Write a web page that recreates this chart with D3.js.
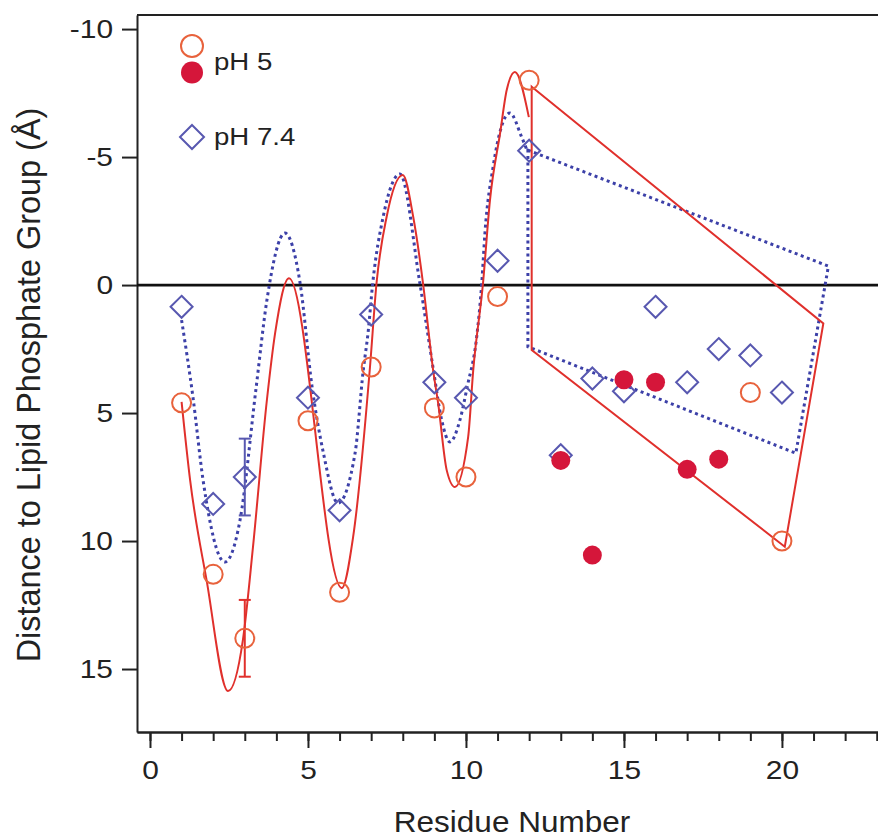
<!DOCTYPE html>
<html><head><meta charset="utf-8">
<script src="https://cdn.jsdelivr.net/npm/d3@7"></script>
<style>body{margin:0;background:#fff}</style>
</head><body><svg id="c" width="878" height="840"></svg>
<script>
// ---- data ----
const openResidues = [1,2,3,5,6,7,9,10,11,12,19,20];
const openPH5 = [4.6,11.3,13.8,5.3,12.0,3.2,4.8,7.5,0.45,-8.0,4.2,10.0];
const filledResidues = [13,14,15,16,17,18];
const filledPH5 = [6.85,10.55,3.7,3.8,7.2,6.8];
const diamondResidues = [1,2,3,5,6,7,9,10,11,12,13,14,15,16,17,18,19,20];
const diamondPH74 = [0.85,8.55,7.5,4.4,8.8,1.15,3.8,4.4,-0.95,-5.25,6.65,3.65,4.15,0.85,3.8,2.5,2.75,4.2];
const errResidues = [3,3];
const errCenters = [13.8,7.5];
const errHalf = [1.5,1.5];
const errSeries = ["pH 5","pH 7.4"];
const redCurveX = [1.0,1.27,1.79,2.47,2.94,3.26,3.70,3.96,4.40,6.07,6.43,6.96,7.17,7.49,8.0,8.33,8.64,8.96,9.12,9.39,9.65,10.07,10.23,10.54,10.76,11.08,11.29,11.55,11.99];
const redCurveY = [4.56,7.62,11.52,15.86,13.87,10.23,4.49,1.88,-0.27,11.84,9.83,3.24,-0.08,-2.67,-4.30,-2.67,-0.08,3.32,4.62,7.23,7.89,5.93,3.32,-0.08,-3.32,-5.93,-7.62,-8.32,-6.56];
const blueCurveX = [1.0,1.36,1.68,2.37,2.85,3.35,3.70,4.27,4.75,5.13,5.49,5.95,6.49,6.75,6.90,7.05,7.38,7.91,8.54,8.97,9.23,9.49,9.81,10.04,10.34,10.50,10.60,10.86,11.39,11.76,11.93];
const blueCurveY = [1.37,4.38,7.62,10.82,9.18,4.1,0.59,-2.03,-0.08,3.98,6.57,8.52,6.57,3.32,1.88,-0.08,-2.67,-4.34,-0.08,3.32,5.27,6.13,5.27,3.97,2.02,-0.08,-2.02,-4.62,-6.72,-5.79,-5.27];
const redPolyX = [12.08,21.31,20.09,12.08];
const redPolyY = [-7.75,1.50,10.22,2.54];
const bluePolyX = [11.96,21.47,20.44,11.96];
const bluePolyY = [-5.27,-0.74,6.57,2.41];
const xMajorTicks = [0,5,10,15,20];
const yTicks = [-10,-5,0,5,10,15];
const xTitle = "Residue Number";
const yTitle = "Distance to Lipid Phosphate Group (Å)";

// ---- styles ----
const FONT = "'Liberation Sans', Arial, Helvetica, sans-serif";
const ORANGE = "#e8623c", RED = "#e0302c", CRIMSON = "#d5163a", BLUE = "#5858b0", BLUED = "#3c40a8";
const SX = 1.15;

const svg = d3.select("#c");
const L = 137, R = 878, T = 15, B = 732;
const x = d3.scaleLinear().domain([-0.411, 23.04]).range([L, R]);
const y = d3.scaleLinear().domain([-10.55, 17.46]).range([T, B]);

// frame
svg.append("line").attr("x1", L).attr("x2", R).attr("y1", T).attr("y2", T).attr("stroke", "#222").attr("stroke-width", 2);

// x axis
const gxMinor = svg.append("g").attr("transform", `translate(0,${B})`)
  .call(d3.axisBottom(x).tickValues(d3.range(0, 24)).tickSize(9).tickSizeOuter(0).tickFormat(""));
const gx = svg.append("g").attr("transform", `translate(0,${B})`)
  .call(d3.axisBottom(x).tickValues(xMajorTicks).tickSize(16).tickSizeOuter(0).tickPadding(14).tickFormat(d => String(d)));
[gxMinor, gx].forEach(g => { g.selectAll("path,line").attr("stroke", "#222").attr("stroke-width", 2); });
gx.selectAll("text").attr("font-family", FONT).attr("font-size", 26).attr("fill", "#222")
  .each(function() {
    const t = d3.select(this); const yy = +t.attr("y");
    t.attr("y", null).attr("transform", `translate(0,${yy - 1}) scale(${SX},1)`);
  });

// y axis
const gy = svg.append("g").attr("transform", `translate(${L},0)`)
  .call(d3.axisLeft(y).tickValues(yTicks).tickSize(15).tickSizeOuter(0).tickPadding(9).tickFormat(d => String(d)));
gy.selectAll("path,line").attr("stroke", "#222").attr("stroke-width", 2);
gy.selectAll("text").attr("font-family", FONT).attr("font-size", 26).attr("fill", "#222")
  .each(function() {
    const t = d3.select(this); const xx = +t.attr("x");
    t.attr("x", null).attr("transform", `translate(${xx},0) scale(${SX},1)`);
  });

// zero line
svg.append("line").attr("x1", L).attr("x2", R).attr("y1", y(0)).attr("y2", y(0)).attr("stroke", "#111").attr("stroke-width", 2.8);

// titles
svg.append("text").attr("transform", `translate(${512},${832}) scale(1.05,1)`).attr("text-anchor", "middle")
  .attr("font-family", FONT).attr("font-size", 30).attr("fill", "#222").text(xTitle);
svg.append("text").attr("transform", `translate(${40},${385}) rotate(-90)`).attr("text-anchor", "middle")
  .attr("font-family", FONT).attr("font-size", 32.4).attr("fill", "#222").text(yTitle);

// curves
const line = d3.line().x(d => x(d[0])).y(d => y(d[1])).curve(d3.curveMonotoneX);
const poly = d3.line().x(d => x(d[0])).y(d => y(d[1])).curve(d3.curveLinearClosed);
const bluePts = blueCurveX.map((v, i) => [v, blueCurveY[i]]);
const redPts = redCurveX.map((v, i) => [v, redCurveY[i]]);
svg.append("path").attr("d", line(bluePts)).attr("fill", "none").attr("stroke", BLUED).attr("stroke-width", 3).attr("stroke-dasharray", "3,3.5");
svg.append("path").attr("d", poly(bluePolyX.map((v, i) => [v, bluePolyY[i]]))).attr("fill", "none").attr("stroke", BLUED).attr("stroke-width", 3).attr("stroke-dasharray", "3,3.5");
svg.append("path").attr("d", line(redPts)).attr("fill", "none").attr("stroke", RED).attr("stroke-width", 2);
svg.append("path").attr("d", poly(redPolyX.map((v, i) => [v, redPolyY[i]]))).attr("fill", "none").attr("stroke", RED).attr("stroke-width", 2).attr("stroke-linejoin", "miter");

// error bars
errResidues.forEach((r, i) => {
  const c = errSeries[i] === "pH 5" ? RED : BLUE;
  const g = svg.append("g").attr("stroke", c).attr("stroke-width", 2);
  const y1 = y(errCenters[i] - errHalf[i]), y2 = y(errCenters[i] + errHalf[i]), xc = x(r);
  g.append("line").attr("x1", xc).attr("x2", xc).attr("y1", y1).attr("y2", y2);
  g.append("line").attr("x1", xc - 6).attr("x2", xc + 6).attr("y1", y1).attr("y2", y1);
  g.append("line").attr("x1", xc - 6).attr("x2", xc + 6).attr("y1", y2).attr("y2", y2);
});

// markers
const diamond = s => `M0,${-s}L${s},0L0,${s}L${-s},0Z`;
svg.append("g").selectAll("path").data(diamondResidues).join("path")
  .attr("transform", (d, i) => `translate(${x(d)},${y(diamondPH74[i])})`)
  .attr("d", diamond(11)).attr("fill", "none").attr("stroke", BLUE).attr("stroke-width", 2);
svg.append("g").selectAll("circle").data(openResidues).join("circle")
  .attr("cx", d => x(d)).attr("cy", (d, i) => y(openPH5[i])).attr("r", 9.5)
  .attr("fill", "none").attr("stroke", ORANGE).attr("stroke-width", 2);
svg.append("g").selectAll("circle").data(filledResidues).join("circle")
  .attr("cx", d => x(d)).attr("cy", (d, i) => y(filledPH5[i])).attr("r", 9.5)
  .attr("fill", CRIMSON).attr("stroke", "none");

// legend
const lg = svg.append("g");
lg.append("circle").attr("cx", 192).attr("cy", 46).attr("r", 11).attr("fill", "none").attr("stroke", ORANGE).attr("stroke-width", 2);
lg.append("circle").attr("cx", 192).attr("cy", 72.5).attr("r", 11).attr("fill", CRIMSON);
lg.append("path").attr("transform", "translate(192,137)").attr("d", diamond(12)).attr("fill", "none").attr("stroke", BLUE).attr("stroke-width", 2);
lg.append("text").attr("transform", `translate(214,70) scale(${SX},1)`).attr("font-family", FONT).attr("font-size", 24).attr("fill", "#222").text("pH 5");
lg.append("text").attr("transform", `translate(214,145) scale(${SX},1)`).attr("font-family", FONT).attr("font-size", 24).attr("fill", "#222").text("pH 7.4");
</script></body></html>
